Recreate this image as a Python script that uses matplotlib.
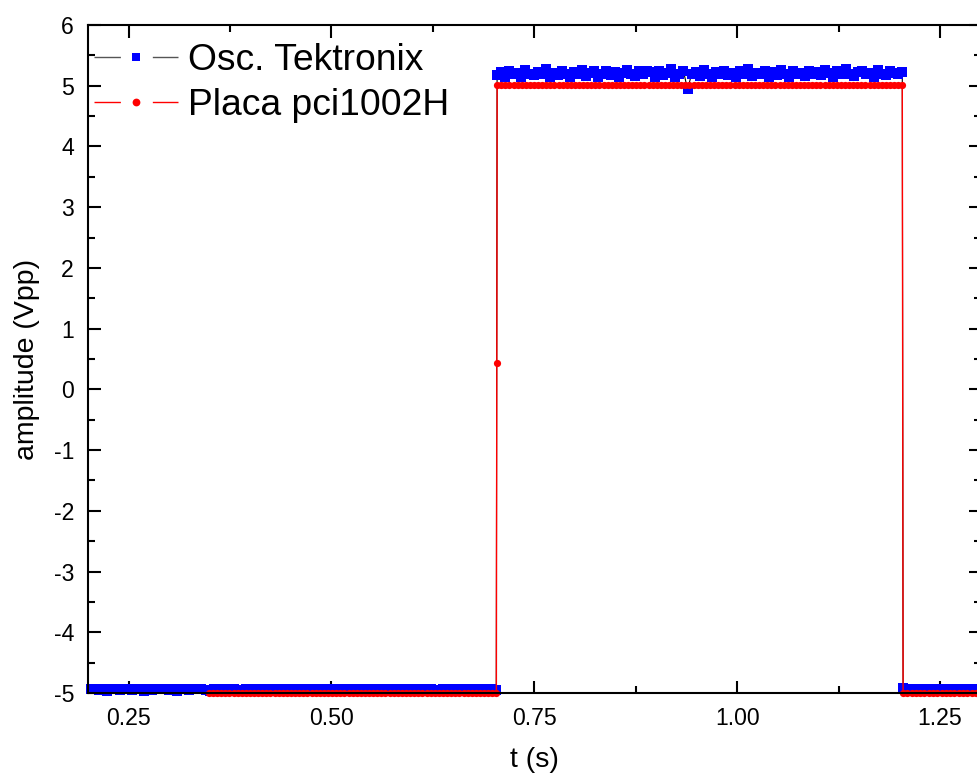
import numpy as np
import matplotlib
matplotlib.use("Agg")
import matplotlib.pyplot as plt
from matplotlib.lines import Line2D
from matplotlib.legend_handler import HandlerTuple
from matplotlib.ticker import MultipleLocator, FormatStrFormatter

plt.rcParams['font.family'] = ['Liberation Sans', 'DejaVu Sans']

# ---------------- data ----------------
series_names = ["Osc. Tektronix", "Placa pci1002H"]

osc_seg_times = [(0.2035, 0.7032), (0.7042, 1.2036), (1.2046, 1.3000)]
osc_low1 = [
    -4.94, -4.93, -4.95, -4.94, -4.96, -4.93, -4.94, -4.95, -4.93, -4.94,
    -4.95, -4.94, -4.93, -4.96, -4.94, -4.95, -4.93, -4.94, -4.94, -4.95,
    -4.93, -4.96, -4.94, -4.93, -4.95, -4.94, -4.94, -4.93, -4.95, -4.96,
    -4.94, -4.93, -4.95, -4.94, -4.93, -4.94, -4.96, -4.95, -4.94, -4.93,
    -4.95, -4.94, -4.93, -4.95, -4.94, -4.96, -4.93, -4.94, -4.95, -4.94,
    -4.93, -4.95, -4.94, -4.96, -4.94, -4.93, -4.95, -4.94, -4.93, -4.95,
    -4.94, -4.96, -4.93, -4.94, -4.95, -4.94, -4.93, -4.95, -4.94, -4.94,
    -4.96, -4.93, -4.95, -4.94, -4.93, -4.95, -4.94, -4.96, -4.94, -4.93,
    -4.95, -4.94, -4.93, -4.94, -4.96, -4.95, -4.93, -4.94, -4.95, -4.94,
    -4.93, -4.95, -4.94, -4.96, -4.93, -4.94, -4.95, -4.94, -4.93, -4.95,
]
osc_high = [
    5.18, 5.22, 5.15, 5.25, 5.19, 5.21, 5.14, 5.26, 5.20, 5.17,
    5.23, 5.19, 5.27, 5.15, 5.21, 5.18, 5.25, 5.20, 5.14, 5.22,
    5.19, 5.26, 5.16, 5.21, 5.24, 5.15, 5.20, 5.25, 5.18, 5.22,
    5.14, 5.21, 5.26, 5.19, 5.16, 5.24, 5.20, 5.25, 5.22, 5.15,
    5.25, 5.18, 5.21, 5.27, 5.15, 5.20, 5.24, 4.94, 5.19, 5.22,
    5.16, 5.26, 5.20, 5.14, 5.22, 5.19, 5.25, 5.18, 5.21, 5.15,
    5.24, 5.20, 5.27, 5.16, 5.21, 5.19, 5.25, 5.14, 5.22, 5.18,
    5.26, 5.20, 5.15, 5.24, 5.19, 5.21, 5.16, 5.25, 5.20, 5.22,
    5.18, 5.26, 5.21, 5.15, 5.24, 5.19, 5.27, 5.20, 5.16, 5.22,
    5.25, 5.19, 5.21, 5.15, 5.26, 5.20, 5.18, 5.24, 5.21, 5.19,
    5.22,
]
osc_low2 = [
    -4.91, -4.93, -4.95, -4.94, -4.93, -4.96, -4.94, -4.95, -4.93, -4.94,
    -4.95, -4.94, -4.96, -4.93, -4.94, -4.95, -4.94, -4.93, -4.95, -4.94,
]

# Acquisition board: segment start/end times and sample values
placa_seg_times = [(0.3490, 0.7033), (0.7038, 0.7038), (0.7043, 1.2036), (1.2046, 1.3100)]
placa_low1 = [
    -5.00, -5.00, -5.00, -5.00, -5.00, -5.00, -5.00, -5.00, -5.00, -5.00,
    -5.00, -5.00, -5.00, -5.00, -5.00, -5.00, -5.00, -5.00, -5.00, -5.00,
    -5.00, -5.00, -5.00, -5.00, -5.00, -5.00, -5.00, -5.00, -5.00, -5.00,
    -5.00, -5.00, -5.00, -5.00, -5.00, -5.00, -5.00, -5.00, -5.00, -5.00,
    -5.00, -5.00, -5.00, -5.00, -5.00, -5.00, -5.00, -5.00, -5.00, -5.00,
    -5.00, -5.00, -5.00, -5.00, -5.00, -5.00, -5.00, -5.00, -5.00, -5.00,
    -5.00, -5.00, -5.00, -5.00, -5.00, -5.00, -5.00, -5.00, -5.00, -5.00,
    -5.00,
]
placa_edge = [0.44]
placa_high = [
    5.02, 5.02, 5.02, 5.02, 5.02, 5.02, 5.02, 5.02, 5.02, 5.02,
    5.02, 5.02, 5.02, 5.02, 5.02, 5.02, 5.02, 5.02, 5.02, 5.02,
    5.02, 5.02, 5.02, 5.02, 5.02, 5.02, 5.02, 5.02, 5.02, 5.02,
    5.02, 5.02, 5.02, 5.02, 5.02, 5.02, 5.02, 5.02, 5.02, 5.02,
    5.02, 5.02, 5.02, 5.02, 5.02, 5.02, 5.02, 5.02, 5.02, 5.02,
    5.02, 5.02, 5.02, 5.02, 5.02, 5.02, 5.02, 5.02, 5.02, 5.02,
    5.02, 5.02, 5.02, 5.02, 5.02, 5.02, 5.02, 5.02, 5.02, 5.02,
    5.02, 5.02, 5.02, 5.02, 5.02, 5.02, 5.02, 5.02, 5.02, 5.02,
    5.02, 5.02, 5.02, 5.02, 5.02, 5.02, 5.02, 5.02, 5.02, 5.02,
    5.02, 5.02, 5.02, 5.02, 5.02, 5.02, 5.02, 5.02, 5.02, 5.02,
]
placa_low2 = [
    -5.00, -5.00, -5.00, -5.00, -5.00, -5.00, -5.00, -5.00, -5.00, -5.00,
    -5.00, -5.00, -5.00, -5.00, -5.00, -5.00, -5.00, -5.00, -5.00, -5.00,
    -5.00,
]

x_label = "t (s)"
y_label = "amplitude (Vpp)"
x_ticks = [0.25, 0.50, 0.75, 1.00, 1.25]
y_ticks = [-5, -4, -3, -2, -1, 0, 1, 2, 3, 4, 5, 6]


def build(segments, seg_times):
    ts, vs = [], []
    for vals, (a, b) in zip(segments, seg_times):
        ts.append(np.linspace(a, b, len(vals)))
        vs.append(np.asarray(vals, dtype=float))
    return np.concatenate(ts), np.concatenate(vs)


osc_t, osc_v = build([osc_low1, osc_high, osc_low2], osc_seg_times)
placa_t, placa_v = build([placa_low1, placa_edge, placa_high, placa_low2], placa_seg_times)

# ---------------- figure ----------------
W, H = 977, 784
fig = plt.figure(figsize=(W / 100, H / 100), dpi=100)
ax_left, ax_right, ax_top, ax_bottom = 88, 980.5, 25, 693
ax_w, ax_h = ax_right - ax_left, ax_bottom - ax_top
ax = fig.add_axes([ax_left / W, 1 - ax_bottom / H, ax_w / W, ax_h / H])

SQ = 6.5
CI = 5.2
ax.plot(osc_t, osc_v, color='black', lw=0.8, marker='s', ms=SQ,
        mfc='#0000ff', mec='#0000ff', mew=0, clip_on=False, zorder=3)
ax.plot(placa_t, placa_v, color='#ff0000', lw=1.0, marker='o', ms=CI,
        mfc='#ff0000', mec='#ff0000', mew=0, clip_on=False, zorder=4)

ax.set_xlim(0.2, 1.3)
ax.set_ylim(-5, 6)
ax.set_xticks(x_ticks)
ax.set_yticks(y_ticks)
ax.xaxis.set_major_formatter(FormatStrFormatter('%.2f'))
ax.yaxis.set_major_formatter(FormatStrFormatter('%d'))
ax.xaxis.set_minor_locator(MultipleLocator(0.125))
ax.yaxis.set_minor_locator(MultipleLocator(0.5))

for s in ax.spines.values():
    s.set_linewidth(1.5)
    s.set_zorder(5)
ax.tick_params(which='both', direction='in', top=True, right=True,
               width=1.5, labelsize=16.6, colors='black')
ax.tick_params(which='major', length=9, pad=10)
ax.tick_params(which='minor', length=5)

ax.set_xlabel(x_label, fontsize=20.5, labelpad=12)
ax.set_ylabel(y_label, fontsize=20.5, labelpad=10)

# legend: line pieces with a gap around the marker
h_osc = (Line2D([], [], color='#555555', lw=1, dashes=(19, 23)),
         Line2D([], [], ls='none', marker='s', ms=5.6, mfc='#0000ff', mec='#0000ff', mew=0))
h_pla = (Line2D([], [], color='#ff0000', lw=1, dashes=(19, 23)),
         Line2D([], [], ls='none', marker='o', ms=5.6, mfc='#ff0000', mec='#ff0000', mew=0))
leg = ax.legend([h_osc, h_pla], series_names, loc='upper left',
                bbox_to_anchor=(6 / ax_w, 1 - 18.5 / ax_h),
                frameon=False, fontsize=26.8, handlelength=2.26,
                handletextpad=0.27, borderaxespad=0.0, borderpad=0.0,
                labelspacing=0.25, numpoints=1,
                handler_map={tuple: HandlerTuple(ndivide=1)})

fig.savefig('out.png', dpi=100)
